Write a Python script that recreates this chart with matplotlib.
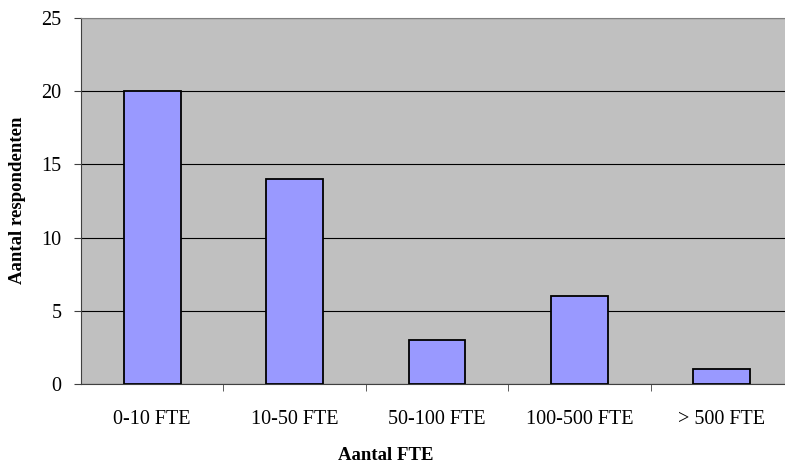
import matplotlib.pyplot as plt

plt.rcParams['font.family'] = ['Liberation Serif', 'DejaVu Serif']

categories = ['0-10 FTE', '10-50 FTE', '50-100 FTE', '100-500 FTE', '> 500 FTE']
respondenten = [20, 14, 3, 6, 1]

fig = plt.figure(figsize=(7.85, 4.67), dpi=100)
# plot area runs a bit past the right edge, as in the original
ax = fig.add_axes([81 / 785, 1 - 384 / 467, 712 / 785, 366 / 467])
ax.set_facecolor('#C0C0C0')

x = list(range(len(categories)))
ax.bar(x, respondenten, width=0.4, color='#9999FF', edgecolor='black', linewidth=1.3, zorder=3)

ax.set_xlim(-0.5, len(categories) - 0.5)
ax.set_ylim(0, 25)
ax.set_yticks([0, 5, 10, 15, 20, 25])
ax.yaxis.grid(True, color='black', linewidth=0.8, zorder=1)
ax.set_axisbelow(True)

ax.set_xticks(x)
ax.set_xticklabels(categories, fontsize=14.5)
ax.tick_params(axis='x', length=0, pad=19)
ax.set_xticks([i + 0.5 for i in x[:-1]], minor=True)
ax.tick_params(axis='x', which='minor', length=5, direction='out', color='#404040')
ax.tick_params(axis='y', labelsize=14.5, length=5, direction='out', color='#404040', pad=9)

for s in ['top', 'right']:
    ax.spines[s].set_color('#808080')
ax.spines['left'].set_color('#404040')
ax.spines['bottom'].set_color('#404040')

fig.text(386 / 785, 1 - 455 / 467, 'Aantal FTE', fontsize=13.5, fontweight='bold',
         ha='center', va='center')
fig.text(18 / 785, 1 - 200 / 467, 'Aantal respondenten', fontsize=13.5, fontweight='bold',
         ha='center', va='center', rotation=90)

fig.savefig('out.png', dpi=100)
